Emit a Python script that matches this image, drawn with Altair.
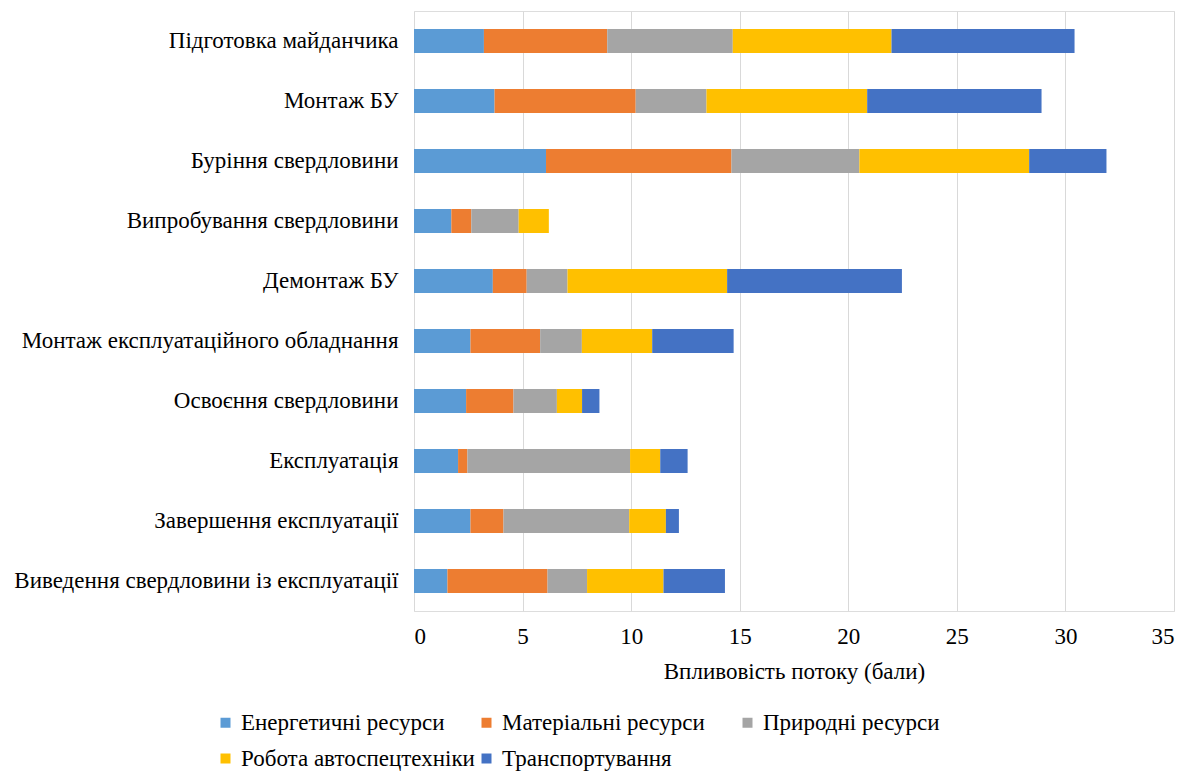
import altair as alt
import pandas as pd

stages = [
    "Підготовка майданчика",
    "Монтаж БУ",
    "Буріння свердловини",
    "Випробування свердловини",
    "Демонтаж БУ",
    "Монтаж експлуатаційного обладнання",
    "Освоєння свердловини",
    "Експлуатація",
    "Завершення експлуатації",
    "Виведення свердловини із експлуатації",
]
series = [
    "Енергетичні ресурси",
    "Матеріальні ресурси",
    "Природні ресурси",
    "Робота автоспецтехніки",
    "Транспортування",
]
colors = ["#5B9BD5", "#ED7D31", "#A5A5A5", "#FFC000", "#4472C4"]

energy = [3.22, 3.71, 6.08, 1.72, 3.63, 2.60, 2.40, 2.03, 2.60, 1.54]
material = [5.68, 6.50, 8.54, 0.92, 1.56, 3.21, 2.18, 0.43, 1.52, 4.61]
natural = [5.78, 3.26, 5.89, 2.18, 1.88, 1.92, 2.00, 7.49, 5.79, 1.82]
vehicles = [7.31, 7.40, 7.82, 1.39, 7.35, 3.24, 1.16, 1.39, 1.69, 3.52]
transport = [8.43, 8.03, 3.56, 0.00, 8.05, 3.75, 0.80, 1.26, 0.60, 2.83]

values = [energy, material, natural, vehicles, transport]
rows = []
for si, (s, vals) in enumerate(zip(series, values)):
    for st, v in zip(stages, vals):
        rows.append({"stage": st, "series": s, "order": si, "value": v})
df = pd.DataFrame(rows)

font = "Liberation Serif"
fs = 23

chart = alt.Chart(df).mark_bar(size=24).encode(
    y=alt.Y("stage:N", sort=stages, title=None,
            axis=alt.Axis(domain=False, ticks=False, labelFont=font, labelFontSize=fs,
                          labelColor="#000000", labelPadding=16, labelLimit=600)),
    x=alt.X("value:Q", stack="zero", title="Впливовість потоку (бали)",
            scale=alt.Scale(domain=[0, 35], nice=False),
            axis=alt.Axis(values=[0, 5, 10, 15, 20, 25, 30, 35], domain=False, ticks=False,
                          gridColor="#D9D9D9", labelFont=font, labelFontSize=fs,
                          labelColor="#000000", labelPadding=14,
                          titleFont=font, titleFontSize=fs, titleFontWeight="normal",
                          titleColor="#000000", titlePadding=12)),
    color=alt.Color("series:N", sort=series,
                    scale=alt.Scale(domain=series, range=colors),
                    legend=alt.Legend(title=None, orient="none", legendX=-200, legendY=700,
                                      direction="horizontal", columns=3, gridAlign="all",
                                      symbolType="square", symbolSize=100,
                                      symbolStrokeWidth=0, labelOffset=4,
                                      labelFont=font, labelFontSize=fs, labelColor="#000000",
                                      columnPadding=0, rowPadding=12, labelLimit=400)),
    order=alt.Order("order:Q"),
).properties(
    width=760, height=600,
    padding={"left": 5, "top": 3, "right": 5, "bottom": 5},
).configure_view(stroke=None).configure(background="#ffffff")

chart.save("out.html", embed_options={"renderer": "svg", "actions": False})
